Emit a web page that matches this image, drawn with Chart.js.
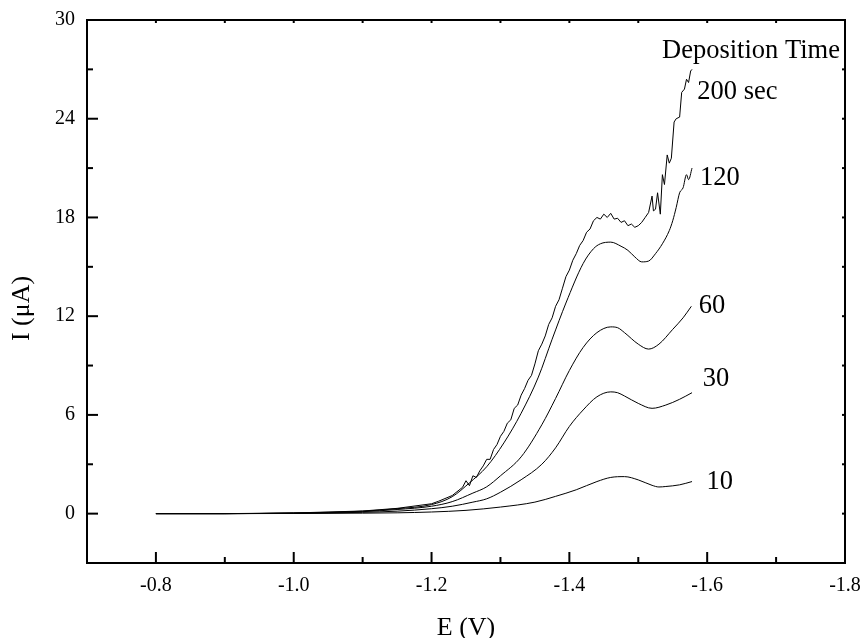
<!DOCTYPE html>
<html>
<head>
<meta charset="utf-8">
<script src="https://cdn.jsdelivr.net/npm/chart.js@4/dist/chart.umd.min.js"></script>
<style>
  html, body { margin: 0; padding: 0; background: #fff; }
  #wrap { width: 865px; height: 638px; }
</style>
</head>
<body>
<div id="wrap"><canvas id="c" width="865" height="638"></canvas></div>
<script>
// ---- Data ----
const xTickValues = [-0.8, -1.0, -1.2, -1.4, -1.6, -1.8];
const xMinorValues = [-0.9, -1.1, -1.3, -1.5, -1.7];
const yTickValues = [0, 6, 12, 18, 24, 30];
const yMinorValues = [3, 9, 15, 21, 27];

const seriesNames = ['10', '30', '60', '120', '200 sec'];

const e10 = [-0.8, -0.9, -1.0, -1.1, -1.15, -1.2, -1.25, -1.3, -1.35, -1.38, -1.41, -1.44, -1.46, -1.48, -1.50, -1.52, -1.53, -1.54, -1.56, -1.578];
const i10 = [0, 0, 0.01, 0.03, 0.05, 0.1, 0.2, 0.4, 0.7, 1.05, 1.45, 1.95, 2.2, 2.25, 2.05, 1.72, 1.62, 1.65, 1.75, 1.95];

const e30 = [-0.8, -0.9, -1.0, -1.1, -1.15, -1.2, -1.23, -1.26, -1.28, -1.3, -1.33, -1.36, -1.38, -1.4, -1.42, -1.44, -1.46, -1.47, -1.48, -1.50, -1.52, -1.54, -1.56, -1.578];
const i30 = [0, 0, 0.02, 0.08, 0.15, 0.3, 0.45, 0.7, 0.9, 1.3, 2.06, 3.0, 4.0, 5.3, 6.3, 7.1, 7.4, 7.35, 7.15, 6.7, 6.4, 6.6, 6.95, 7.35];

const e60 = [-0.8, -0.9, -1.0, -1.1, -1.15, -1.2, -1.23, -1.26, -1.28, -1.3, -1.33, -1.36, -1.38, -1.40, -1.42, -1.44, -1.46, -1.47, -1.48, -1.50, -1.515, -1.53, -1.55, -1.565, -1.577];
const i60 = [0, 0, 0.03, 0.12, 0.25, 0.45, 0.73, 1.25, 1.63, 2.3, 3.45, 5.4, 7.0, 8.7, 10.1, 11.0, 11.35, 11.3, 11.0, 10.3, 10.0, 10.3, 11.2, 11.9, 12.6];

const e120 = [-0.8, -0.9, -1.0, -1.1, -1.15, -1.2, -1.23, -1.255, -1.28, -1.305, -1.33, -1.355, -1.375, -1.395, -1.42, -1.435, -1.445, -1.46, -1.475, -1.485, -1.495, -1.505, -1.515, -1.525, -1.535, -1.545, -1.55, -1.555, -1.56, -1.565, -1.57, -1.573, -1.578];
const i120 = [0, 0, 0.04, 0.15, 0.3, 0.55, 1.03, 1.87, 2.85, 4.3, 6.1, 8.3, 10.6, 12.8, 15.2, 16.1, 16.4, 16.5, 16.25, 16.0, 15.6, 15.3, 15.35, 15.8, 16.4, 17.2, 17.8, 18.6, 19.5, 19.8, 20.6, 20.3, 21.0];

const e200 = [-0.8, -0.9, -1.0, -1.1, -1.15, -1.2, -1.21, -1.23, -1.245, -1.25, -1.255, -1.26, -1.265, -1.27, -1.275, -1.28, -1.285, -1.29, -1.295, -1.30, -1.305, -1.31, -1.315, -1.32, -1.325, -1.33, -1.335, -1.34, -1.345, -1.35, -1.355, -1.36, -1.365, -1.37, -1.375, -1.38, -1.385, -1.39, -1.395, -1.40, -1.405, -1.41, -1.415, -1.42, -1.425, -1.43, -1.435, -1.44, -1.445, -1.45, -1.455, -1.46, -1.465, -1.47, -1.475, -1.48, -1.485, -1.49, -1.495, -1.50, -1.505, -1.51, -1.515, -1.52, -1.522, -1.525, -1.528, -1.532, -1.535, -1.538, -1.542, -1.545, -1.548, -1.552, -1.555, -1.56, -1.563, -1.567, -1.57, -1.573, -1.576, -1.578];
const i200 = [0, 0, 0.04, 0.16, 0.32, 0.6, 0.75, 1.1, 1.6, 2.0, 1.7, 2.3, 2.2, 2.6, 2.9, 3.3, 3.3, 3.9, 4.2, 4.7, 5.0, 5.5, 5.7, 6.4, 6.6, 7.2, 7.6, 8.1, 8.4, 9.1, 9.9, 10.3, 10.8, 11.5, 11.9, 12.6, 13.0, 13.7, 14.4, 14.8, 15.4, 15.8, 16.3, 16.6, 17.1, 17.3, 17.8, 18.0, 17.9, 18.2, 18.0, 18.25, 17.9, 17.95, 17.7, 17.8, 17.5, 17.6, 17.4, 17.5, 17.7, 18.0, 18.3, 19.3, 18.4, 18.5, 19.5, 18.2, 20.6, 20.0, 21.8, 21.3, 21.6, 23.8, 24.0, 24.1, 25.6, 25.8, 26.4, 26.2, 26.9, 27.0];

const curveLabels = ['Deposition Time', '200 sec', '120', '60', '30', '10'];
const xTitle = 'E (V)';
const yTitle = 'I (\u03bcA)';

// ---- Chart ----
const pts = (xs, ys) => xs.map((v, k) => ({ x: v, y: ys[k] }));
const seriesData = [pts(e10, i10), pts(e30, i30), pts(e60, i60), pts(e120, i120), pts(e200, i200)];
const smoothSeries = [true, true, true, true, false];

// anchors for annotation text (data coordinates), left-aligned, vertically centred
const labelAnchors = [
  { x: -1.5345, y: 28.09 },
  { x: -1.5857, y: 25.63 },
  { x: -1.5897, y: 20.4 },
  { x: -1.5877, y: 12.61 },
  { x: -1.5935, y: 8.17 },
  { x: -1.599, y: 1.9 }
];

const SERIF = '"Liberation Serif", "Times New Roman", serif';

const framePlugin = {
  id: 'frameTicks',
  afterDatasetsDraw(chart) {
    const { ctx, chartArea: a, scales: { x, y } } = chart;
    ctx.save();
    ctx.strokeStyle = '#000';
    ctx.lineWidth = 2;
    ctx.strokeRect(a.left, a.top, a.right - a.left, a.bottom - a.top);
    const seg = (x1, y1, x2, y2) => { ctx.beginPath(); ctx.moveTo(x1, y1); ctx.lineTo(x2, y2); ctx.stroke(); };
    xTickValues.forEach(v => { const p = x.getPixelForValue(v); seg(p, a.bottom, p, a.bottom - 11); seg(p, a.top, p, a.top + 3); });
    xMinorValues.forEach(v => { const p = x.getPixelForValue(v); seg(p, a.bottom, p, a.bottom - 6); seg(p, a.top, p, a.top + 3); });
    yTickValues.forEach(v => { const p = y.getPixelForValue(v); seg(a.left, p, a.left + 11, p); seg(a.right, p, a.right - 3, p); });
    yMinorValues.forEach(v => { const p = y.getPixelForValue(v); seg(a.left, p, a.left + 6, p); seg(a.right, p, a.right - 3, p); });

    // axis titles
    ctx.fillStyle = '#000';
    ctx.font = '26px ' + SERIF;
    ctx.textAlign = 'center';
    ctx.textBaseline = 'middle';
    ctx.fillText(xTitle, (a.left + a.right) / 2, 628.5);
    ctx.save();
    ctx.translate(22.5, (a.top + a.bottom) / 2 + 17);
    ctx.rotate(-Math.PI / 2);
    ctx.fillText(yTitle, 0, 0);
    ctx.restore();

    // curve labels
    ctx.textAlign = 'left';
    ctx.font = '26.5px ' + SERIF;
    curveLabels.forEach((t, k) => {
      const an = labelAnchors[k];
      ctx.fillText(t, x.getPixelForValue(an.x), y.getPixelForValue(an.y));
    });
    ctx.restore();
  }
};

new Chart(document.getElementById('c'), {
  type: 'line',
  data: {
    datasets: seriesData.map((d, k) => ({
      label: seriesNames[k],
      data: d,
      borderColor: '#000',
      borderWidth: 1,
      pointRadius: 0,
      tension: 0,
      cubicInterpolationMode: smoothSeries[k] ? 'monotone' : 'default',
      fill: false
    }))
  },
  options: {
    responsive: false,
    animation: false,
    devicePixelRatio: 1,
    layout: { padding: { top: 20, right: 20, left: 0, bottom: 0 } },
    plugins: { legend: { display: false }, tooltip: { enabled: false } },
    scales: {
      x: {
        type: 'linear',
        reverse: true,
        min: -1.8,
        max: -0.7,
        grid: { display: false, drawTicks: false },
        border: { display: false },
        afterBuildTicks: s => { s.ticks = xTickValues.map(v => ({ value: v })); },
        afterFit: s => { s.height = 75; s.paddingLeft = 0; s.paddingRight = 0; },
        ticks: {
          autoSkip: false,
          maxRotation: 0,
          padding: 11,
          color: '#000',
          font: { family: SERIF, size: 20 },
          callback: v => Number(v).toFixed(1)
        }
      },
      y: {
        type: 'linear',
        min: -3,
        max: 30,
        grid: { display: false, drawTicks: false },
        border: { display: false },
        afterBuildTicks: s => { s.ticks = yTickValues.map(v => ({ value: v })); },
        afterFit: s => { s.width = 87; s.paddingTop = 0; s.paddingBottom = 0; },
        ticks: {
          autoSkip: false,
          padding: 12,
          color: '#000',
          font: { family: SERIF, size: 20 },
          callback: v => String(v)
        }
      }
    }
  },
  plugins: [framePlugin]
});
</script>
</body>
</html>
